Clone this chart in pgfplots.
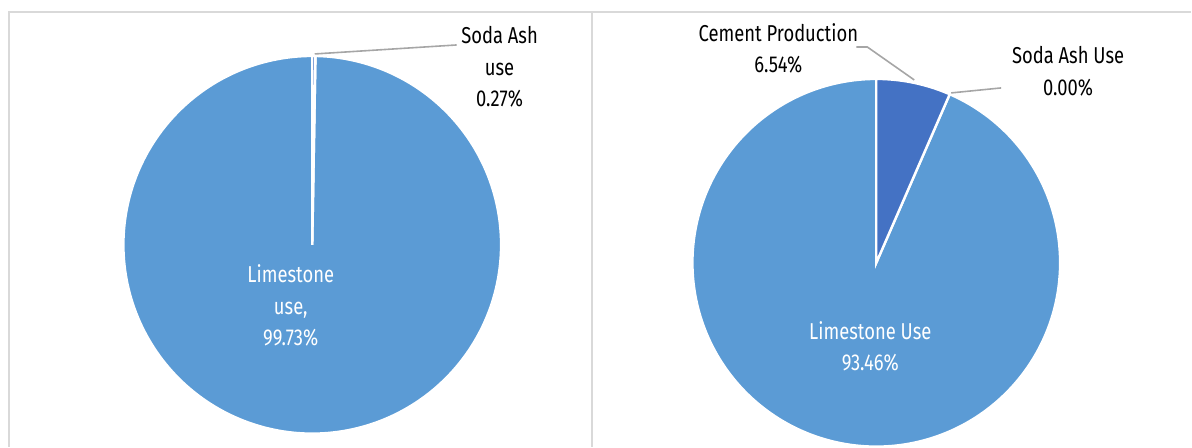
\documentclass[border=0pt]{standalone}
\usepackage{pgfplots}
\pgfplotsset{compat=1.18}
\usepackage{fontspec}
\setmainfont{Fira Sans}[FakeStretch=0.80]
\definecolor{limestone}{HTML}{5B9BD5}
\definecolor{cement}{HTML}{4472C4}
\definecolor{framec}{HTML}{D9D9D9}
\definecolor{leader}{HTML}{A6A6A6}
\tikzset{lbl/.style={font=\fontsize{11.5}{15.8}\selectfont, align=center, inner sep=0pt}}
\begin{document}
\begin{tikzpicture}
\begin{axis}[width=596pt,height=223.5pt,scale only axis,
  xmin=0,xmax=1192,ymin=0,ymax=447,hide axis,clip=false]
% invisible extent
\addplot[draw=none] coordinates {(0,0) (1192,447)};
% frames
\addplot[framec, line width=1pt] coordinates {(9,0) (9,435) (1192,435)};
\addplot[framec, line width=1pt] coordinates {(592,0) (592,435)};

% ---------- left pie: Limestone use 99.73, Soda Ash use 0.27 ----------
\addplot[fill=limestone, draw=white, line width=1.2pt, domain=-270:89.03, samples=240, variable=\t]
  ({312.5+189*cos(\t)},{202+189*sin(\t)}) -- (axis cs:312.5,202) -- cycle;
\addplot[fill=cement, draw=white, line width=1.2pt, domain=89.03:90, samples=5, variable=\t]
  ({312.5+189*cos(\t)},{202+189*sin(\t)}) -- (axis cs:312.5,202) -- cycle;
\addplot[leader, line width=0.8pt] coordinates {(315,393) (457,402)};
\node[lbl] at (axis cs:500,380) {Soda Ash\\use\\0.27\%};
\node[lbl, text=white] at (axis cs:291,141) {Limestone\\use,\\99.73\%};

% ---------- right pie: Limestone 93.46, Cement 6.54, Soda Ash 0.00 ----------
\addplot[fill=limestone, draw=white, line width=1.2pt, domain=-270:66.46, samples=240, variable=\t]
  ({877+184*cos(\t)},{184+184*sin(\t)}) -- (axis cs:877,184) -- cycle;
\addplot[fill=cement, draw=white, line width=1.2pt, domain=66.46:90, samples=40, variable=\t]
  ({877+184*cos(\t)},{184+184*sin(\t)}) -- (axis cs:877,184) -- cycle;
\addplot[leader, line width=0.8pt] coordinates {(857,400) (868,400) (915,367)};
\addplot[leader, line width=0.8pt] coordinates {(952,354) (1002,359)};
\node[lbl] at (axis cs:779,398.5) {Cement Production\\6.54\%};
\node[lbl] at (axis cs:1069,375.5) {Soda Ash Use\\0.00\%};
\node[lbl, text=white] at (axis cs:871,100.5) {Limestone Use\\93.46\%};
\end{axis}
\end{tikzpicture}
\end{document}
